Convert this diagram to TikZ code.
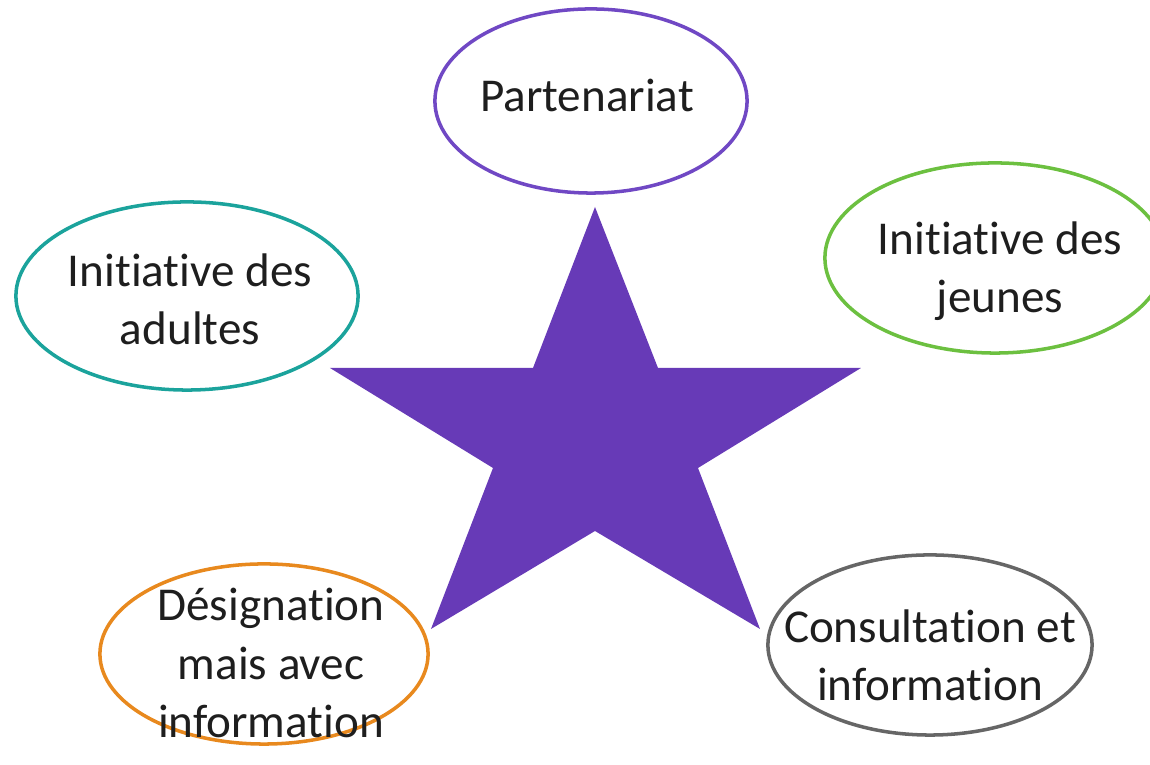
\documentclass[tikz,border=0pt]{standalone}
\usepackage{fontspec}
\setmainfont{Carlito}[Ligatures=NoCommon]
\usetikzlibrary{shapes.geometric}
\definecolor{starpurple}{HTML}{673AB7}
\definecolor{linepurple}{HTML}{7048C4}
\definecolor{linegreen}{HTML}{6CC040}
\definecolor{lineteal}{HTML}{1BA39C}
\definecolor{lineorange}{HTML}{E8891E}
\definecolor{linegray}{HTML}{666666}
\definecolor{textgray}{HTML}{1E1E1E}

\tikzset{
  bubble/.style={ellipse, draw=#1, line width=1pt, inner sep=0pt},
  bubbletext/.style={align=center, text=textgray, inner sep=0pt,
    font=\fontsize{13.4}{16.5}\selectfont}
}

\begin{document}
\begin{tikzpicture}[x=0.01cm, y=-0.01cm]
    \useasboundingbox (0,0) rectangle (1150,765);

    % Central star
    \fill[starpurple] (595,207) -- (658,368) -- (861,368) -- (698,468) -- (760,629)
      -- (595,531) -- (431,629) -- (493,468) -- (330,368) -- (533,368) -- cycle;

    % Ellipses round the star
    \node[bubble=linepurple, minimum width=3.12cm, minimum height=1.84cm] (partner) at (591,101) {};
    \node[bubble=linegreen, minimum width=3.40cm, minimum height=1.90cm] (youth) at (995,258) {};
    \node[bubble=lineteal, minimum width=3.42cm, minimum height=1.88cm] (adults) at (187,296) {};
    \node[bubble=lineorange, minimum width=3.28cm, minimum height=1.80cm] (assigned) at (264,654) {};
    \node[bubble=linegray, minimum width=3.24cm, minimum height=1.80cm] (consult) at (930,645) {};

    % Texts
    \node[bubbletext] (partnertext) at (587,95) {Partenariat};
    \node[bubbletext] (youthtext) at (1000,271) {Initiative des\\jeunes};
    \node[bubbletext] (adultstext) at (190,299) {Initiative des\\adultes};
    \node[bubbletext] (assignedtext) at (271,663) {Désignation\\mais avec\\information};
    \node[bubbletext] (consulttext) at (930,655) {Consultation et\\information};
\end{tikzpicture}
\end{document}
